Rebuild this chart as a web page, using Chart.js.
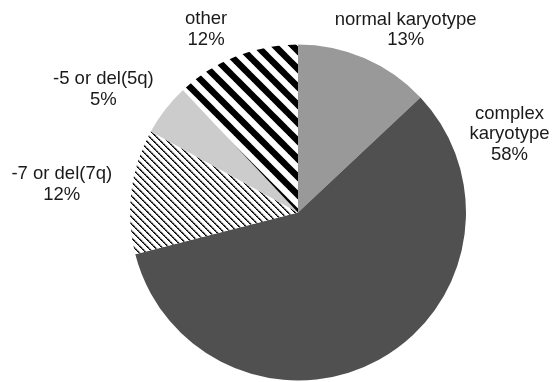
<!DOCTYPE html>
<html>
<head>
<meta charset="utf-8">
<script src="https://cdn.jsdelivr.net/npm/chart.js@4/dist/chart.umd.min.js"></script>
<style>
  html, body { margin: 0; padding: 0; background: #ffffff; }
  #wrap { width: 552px; height: 382px; }
</style>
</head>
<body>
<div id="wrap"><canvas id="c" width="552" height="382"></canvas></div>
<script>
// Karyotype groups and their share of patients (%)
const categories = ['normal karyotype', 'complex\nkaryotype', '-7 or del(7q)', '-5 or del(5q)', 'other'];
const shares = [13, 58, 12, 5, 12];

// Where each label sits: direction (degrees clockwise from 12 o'clock) and
// distance from the pie centre as a multiple of the radius
const labelAngle = [30.3, 69.4, 277.1, 302.6, 333.5];
const labelDist = [1.27, 1.345, 1.417, 1.375, 1.226];

function stripePattern(period, width, phase, style) {
  const t = document.createElement('canvas');
  t.width = period; t.height = period;
  const g = t.getContext('2d');
  g.fillStyle = '#ffffff';
  g.fillRect(0, 0, period, period);
  g.strokeStyle = style;
  g.lineWidth = width;
  g.lineCap = 'butt';
  // lines running top-left to bottom-right: y = x + c
  for (let k = -2; k <= 2; k++) {
    const c = phase + k * period;
    g.beginPath();
    g.moveTo(-period, -period + c);
    g.lineTo(2 * period, 2 * period + c);
    g.stroke();
  }
  return g.createPattern(t, 'repeat');
}

function finePattern() {
  // thin dotted diagonal hatching
  const p = 7;
  const t = document.createElement('canvas');
  t.width = p; t.height = p;
  const g = t.getContext('2d');
  g.fillStyle = '#ffffff';
  g.fillRect(0, 0, p, p);
  for (let i = 0; i < p; i++) {
    const y = (i + 2) % p;
    g.fillStyle = (i % 2 === 0) ? '#000000' : '#222222';
    g.fillRect(i, y, 1, 1);
    g.fillStyle = (i % 2 === 0) ? '#333333' : '#777777';
    g.fillRect((i + 1) % p, y, 1, 1);
    g.fillStyle = '#cfcfcf';
    g.fillRect((i + 2) % p, y, 1, 1);
  }
  return g.createPattern(t, 'repeat');
}

const ctx = document.getElementById('c').getContext('2d');
const fills = [
  '#999999',
  '#505050',
  finePattern(),
  '#cccccc',
  stripePattern(18, 6.5, 5, '#000000')
];

const FONT = '18.5px "Liberation Sans", Arial, sans-serif';

const sliceLabels = {
  id: 'sliceLabels',
  afterDatasetsDraw(chart) {
    const meta = chart.getDatasetMeta(0);
    const c = chart.ctx;
    c.save();
    c.font = FONT;
    c.fillStyle = '#1a1a1a';
    c.textAlign = 'center';
    c.textBaseline = 'alphabetic';
    const lh = 20.5;
    meta.data.forEach((arc, i) => {
      const r = arc.outerRadius;
      const a = labelAngle[i] * Math.PI / 180;
      const cx = arc.x + Math.sin(a) * r * labelDist[i];
      const cy = arc.y - Math.cos(a) * r * labelDist[i];
      const lines = categories[i].split('\n').concat([shares[i] + '%']);
      const n = lines.length;
      lines.forEach((txt, j) => {
        const y = cy + 6.5 + (j - (n - 1) / 2) * lh;
        c.fillText(txt, cx, y);
      });
    });
    c.restore();
  }
};

new Chart(ctx, {
  type: 'pie',
  data: {
    labels: categories,
    datasets: [{
      data: shares,
      backgroundColor: fills,
      borderWidth: 0
    }]
  },
  options: {
    responsive: false,
    animation: false,
    layout: { padding: { left: 130, right: 86, top: 44, bottom: 1 } },
    plugins: {
      legend: { display: false },
      tooltip: { enabled: false }
    }
  },
  plugins: [sliceLabels]
});
</script>
</body>
</html>
